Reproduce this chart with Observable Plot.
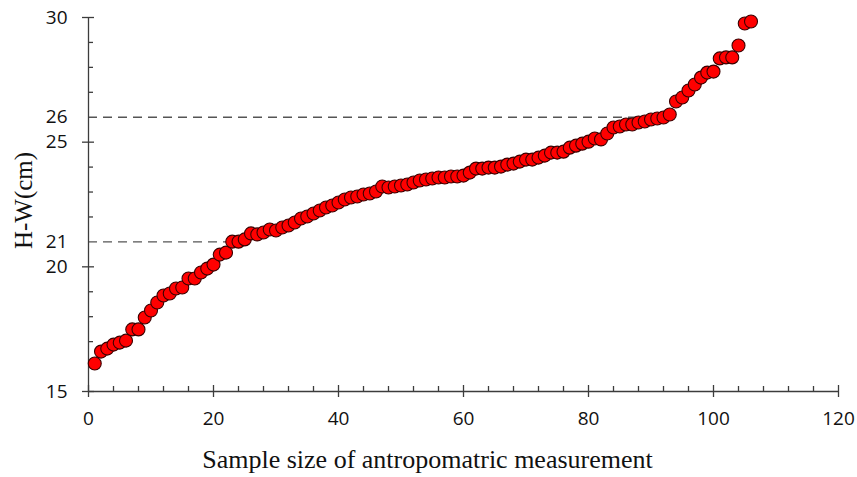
<!DOCTYPE html>
<html><head><meta charset="utf-8">
<script src="https://cdn.jsdelivr.net/npm/d3@7"></script>
<script src="https://cdn.jsdelivr.net/npm/@observablehq/plot@0.6"></script>
<style>body{margin:0;background:#fff}</style>
</head><body><div id="chart"></div>
<script>
// H-W (cm) values for samples 1..106
const hwValues = [
  16.12, 16.60, 16.72, 16.88, 16.96, 17.04, 17.49, 17.49, 17.97, 18.25,
  18.57, 18.85, 18.93, 19.13, 19.17, 19.53, 19.53, 19.77, 19.93, 20.09,
  20.49, 20.57, 21.01, 21.01, 21.10, 21.34, 21.30, 21.38, 21.50, 21.46,
  21.58, 21.66, 21.78, 21.94, 22.02, 22.14, 22.26, 22.38, 22.46, 22.58,
  22.70, 22.78, 22.82, 22.90, 22.94, 23.02, 23.22, 23.18, 23.22, 23.26,
  23.30, 23.38, 23.46, 23.50, 23.54, 23.58, 23.58, 23.62, 23.62, 23.66,
  23.78, 23.94, 23.94, 23.98, 23.98, 24.02, 24.10, 24.14, 24.22, 24.30,
  24.30, 24.38, 24.46, 24.58, 24.58, 24.62, 24.78, 24.86, 24.94, 25.02,
  25.15, 25.11, 25.35, 25.59, 25.63, 25.71, 25.71, 25.79, 25.83, 25.91,
  25.95, 25.99, 26.11, 26.63, 26.79, 27.07, 27.31, 27.59, 27.79, 27.83,
  28.36, 28.40, 28.40, 28.88, 29.76, 29.84
];
const sampleIndex = d3.range(1, hwValues.length + 1);

const xMajorTicks = [0, 20, 40, 60, 80, 100, 120];
const xMinorTicks = [4, 8, 12, 16, 24, 28, 32, 36, 44, 48, 52, 56, 64, 68, 72, 76, 84, 88, 92, 96, 104, 108, 112, 116];
const yMajorTicks = [15, 20, 25, 30];
const yMinorTicks = [16, 17, 18, 19, 22, 23, 24, 27, 28, 29];
const yLabelTicks = [15, 20, 21, 25, 26, 30];
const refY = [21, 26];
const refXEnd = [23, 92];

const xTitle = "Sample size of antropomatric measurement";
const yTitle = "H-W(cm)";

const data = sampleIndex.map((s, i) => ({sample: s, hw: hwValues[i]}));
const refs = refY.map((y, i) => ({y, x2: refXEnd[i]}));

const axisColor = "#3c3c3c";
const tickFont = "'Open Sans', sans-serif";
const titleFont = "'Liberation Serif', 'Times New Roman', serif";

const chart = Plot.plot({
  width: 857,
  height: 477,
  marginLeft: 88,
  marginRight: 19,
  marginTop: 17,
  marginBottom: 86,
  x: {domain: [0, 120]},
  y: {domain: [15, 30]},
  style: {background: "#fff"},
  marks: [
    // dashed reference lines
    Plot.ruleY(refs, {y: "y", x1: 0, x2: "x2", stroke: "#555", strokeWidth: 1.4, strokeDasharray: "9,6"}),
    // axis lines
    Plot.ruleY([15], {x1: 0, x2: 120, stroke: axisColor, strokeWidth: 1.3}),
    Plot.ruleX([0], {y1: 15, y2: 30, stroke: axisColor, strokeWidth: 1.3}),
    // x ticks
    Plot.ruleX(xMajorTicks, {x: d => d, y1: 15, y2: 15, insetTop: -6, insetBottom: -6, stroke: axisColor, strokeWidth: 1.3}),
    Plot.ruleX(xMinorTicks, {x: d => d, y1: 15, y2: 15, insetTop: -5, insetBottom: 0, stroke: axisColor, strokeWidth: 1.3}),
    // y ticks
    Plot.ruleY(yMajorTicks, {y: d => d, x1: 0, x2: 0, insetLeft: -6, insetRight: -6, stroke: axisColor, strokeWidth: 1.3}),
    Plot.ruleY(yMinorTicks, {y: d => d, x1: 0, x2: 0, insetLeft: 0, insetRight: -5, stroke: axisColor, strokeWidth: 1.3}),
    // tick labels
    Plot.axisX({ticks: xMajorTicks, tickSize: 0, tickPadding: 20, label: null, fontSize: 19, fontFamily: tickFont, color: "#111"}),
    Plot.axisY({ticks: yLabelTicks, tickSize: 0, tickPadding: 21, label: null, fontSize: 19, fontFamily: tickFont, color: "#111"}),
    // data
    Plot.dot(data, {x: "sample", y: "hw", r: 6.5, fill: "#ff0000", stroke: "#3a0000", strokeWidth: 1.1}),
    // titles
    Plot.text([xTitle], {frameAnchor: "bottom", text: d => d, dx: -36, dy: 76, fontSize: 26, fontFamily: titleFont, fill: "#111"}),
    Plot.text([yTitle], {frameAnchor: "left", textAnchor: "middle", text: d => d, rotate: -90, dx: -65, dy: -4, fontSize: 25, fontFamily: titleFont, fill: "#111"})
  ]
});
document.getElementById("chart").appendChild(chart);
</script>
</body></html>
